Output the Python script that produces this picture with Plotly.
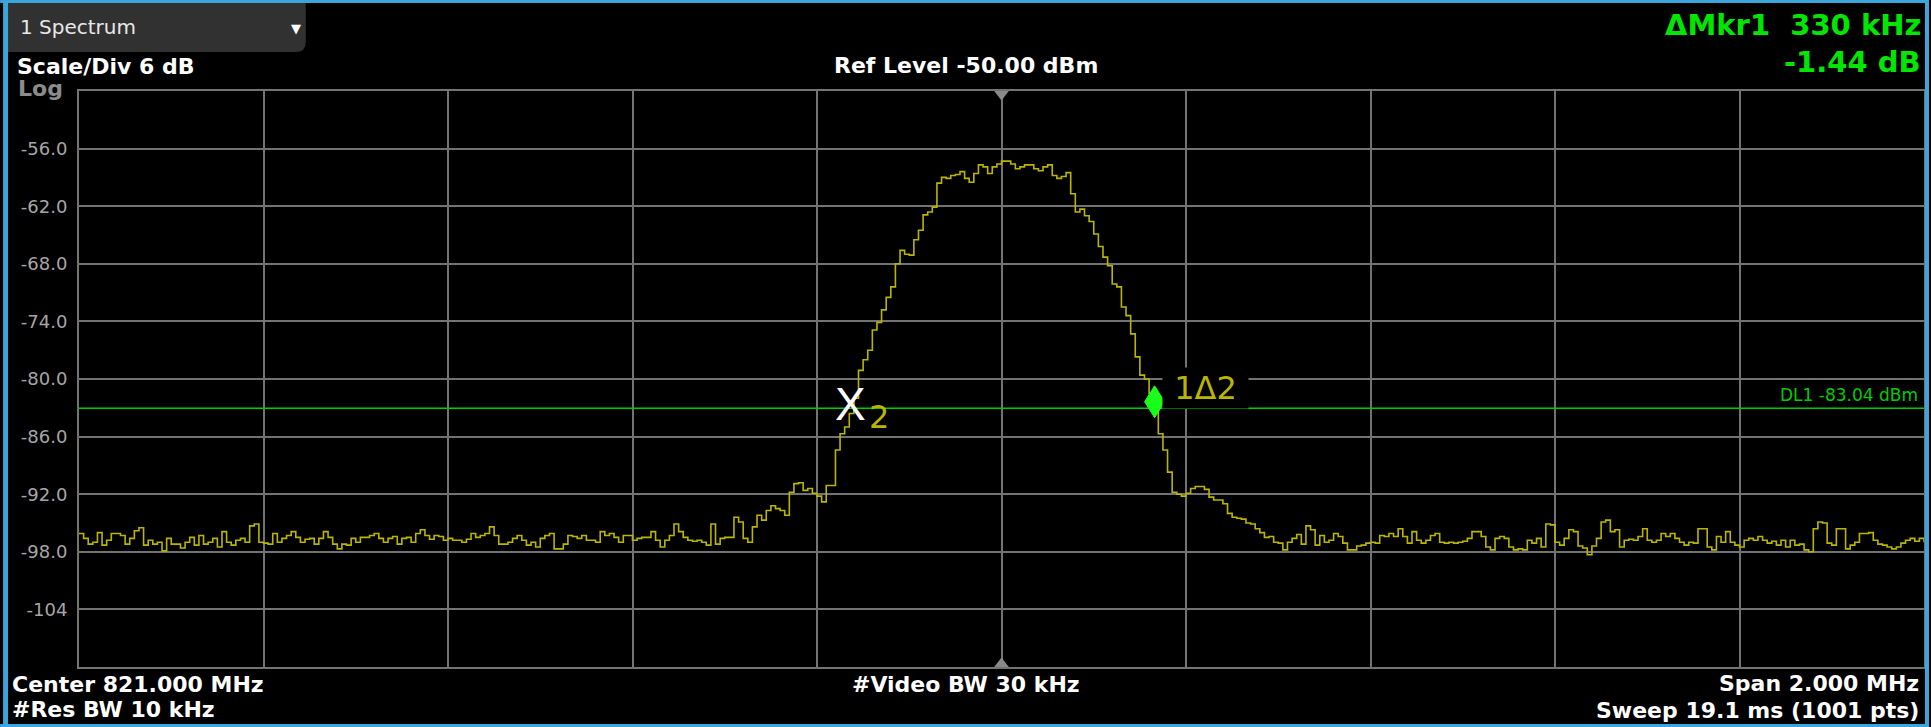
import numpy as np
import plotly.graph_objects as go

# ---- Instrument settings -------------------------------------------------
CENTER_MHZ = 821.0
SPAN_MHZ = 2.0
REF_LEVEL_DBM = -50.0
DB_PER_DIV = 6.0
N_DIV = 10
RES_BW_KHZ = 10
VIDEO_BW_KHZ = 30
SWEEP_MS = 19.1
SWEEP_POINTS = 1001

# ---- Trace 1 levels (dBm), one value every 5 kHz across the span ---------
trace_dbm = [
    -96.1, -96.6, -97.2, -97.0, -96.0, -97.3, -96.8, -96.1, -96.1, -96.3,
    -97.2, -96.6, -95.8, -95.5, -97.3, -96.8, -97.2, -97.0, -97.9, -96.6,
    -97.2, -97.2, -97.6, -97.0, -96.5, -97.3, -96.3, -97.2, -97.0, -96.6,
    -97.5, -95.9, -97.0, -97.3, -96.8, -96.6, -97.0, -95.3, -95.1, -97.0,
    -97.1, -97.2, -96.1, -97.0, -96.6, -96.3, -95.9, -96.5, -97.0, -96.7,
    -96.6, -97.2, -96.6, -95.9, -96.5, -97.2, -97.7, -97.2, -97.3, -96.6,
    -97.0, -96.5, -96.5, -96.3, -96.1, -96.6, -97.0, -96.6, -96.4, -97.2,
    -96.6, -96.5, -97.0, -96.1, -95.7, -96.3, -96.7, -96.3, -96.4, -96.8,
    -96.6, -96.8, -96.8, -97.0, -96.7, -96.1, -96.5, -96.3, -96.1, -95.4,
    -96.3, -97.2, -97.2, -97.0, -96.6, -96.3, -96.8, -97.3, -97.0, -97.5,
    -96.6, -96.3, -96.1, -97.7, -97.7, -97.2, -96.3, -96.4, -96.6, -96.3,
    -96.8, -96.8, -97.0, -95.9, -96.3, -96.1, -96.5, -97.0, -96.3, -96.3,
    -96.8, -96.6, -96.5, -96.5, -95.9, -96.8, -97.5, -96.8, -96.3, -95.1,
    -95.9, -96.5, -96.8, -96.9, -96.8, -97.0, -97.3, -95.1, -97.2, -96.6,
    -96.5, -96.5, -94.4, -94.9, -96.6, -97.0, -95.4, -94.2, -94.7, -93.7,
    -93.2, -93.5, -93.7, -94.2, -91.8, -90.9, -90.8, -91.6, -91.4, -91.9,
    -92.2, -92.8, -91.1, -91.1, -87.4, -85.7, -85.0, -83.6, -82.0, -79.1,
    -78.0, -77.0, -74.9, -74.1, -72.8, -71.5, -70.4, -68.0, -66.6, -67.0,
    -67.1, -65.5, -64.5, -62.9, -62.6, -62.1, -59.6, -59.0, -59.1, -58.8,
    -58.7, -58.4, -59.1, -59.5, -58.6, -57.7, -57.9, -58.6, -57.9, -57.6,
    -57.3, -57.3, -57.6, -58.1, -57.9, -57.7, -57.7, -58.1, -58.3, -57.9,
    -57.7, -58.8, -59.1, -58.9, -58.5, -60.7, -62.6, -62.3, -63.0, -63.6,
    -64.9, -66.2, -67.3, -68.2, -70.1, -70.4, -72.5, -73.4, -75.3, -77.7,
    -79.6, -80.0, -81.5, -82.6, -85.7, -87.4, -89.7, -91.8, -92.0, -92.2,
    -91.9, -91.4, -91.2, -91.2, -91.5, -92.3, -92.6, -92.6, -93.0, -94.0,
    -94.4, -94.5, -94.6, -95.0, -95.1, -95.6, -96.0, -96.5, -96.4, -97.0,
    -97.1, -97.8, -97.0, -96.6, -96.2, -97.2, -95.3, -95.7, -97.3, -96.3,
    -97.0, -96.8, -96.1, -96.4, -97.1, -97.8, -97.8, -97.4, -97.3, -97.1,
    -97.0, -97.1, -96.3, -96.4, -96.1, -96.4, -95.6, -96.4, -97.1, -95.9,
    -96.8, -97.1, -96.8, -96.3, -96.1, -97.0, -97.1, -97.0, -97.1, -97.0,
    -96.9, -96.6, -95.9, -95.9, -96.4, -97.5, -97.8, -96.6, -96.4, -96.6,
    -97.5, -97.8, -97.7, -97.8, -96.8, -97.1, -96.6, -97.5, -95.1, -95.2,
    -97.0, -97.3, -96.6, -95.7, -95.9, -97.4, -97.6, -98.3, -97.4, -96.6,
    -94.9, -94.7, -95.9, -95.7, -97.5, -96.8, -96.7, -96.8, -96.4, -95.6,
    -96.8, -97.0, -96.8, -96.1, -96.4, -96.1, -96.6, -97.0, -97.3, -97.0,
    -97.1, -95.6, -95.6, -97.5, -97.8, -96.4, -97.0, -95.9, -97.0, -97.3,
    -97.5, -96.8, -96.6, -96.8, -96.4, -96.8, -97.1, -96.9, -97.3, -96.8,
    -97.5, -96.8, -97.3, -97.2, -97.8, -98.0, -95.6, -94.9, -95.0, -97.1,
    -97.3, -95.6, -95.6, -97.7, -97.3, -97.0, -96.1, -96.1, -96.0, -96.8,
    -97.2, -97.3, -97.5, -97.7, -97.5, -97.1, -96.8, -96.6, -96.9, -96.6,
    -97.0,
]

# ---- Markers and display line --------------------------------------------
mkr2_freq_mhz = 820.836
mkr2_dbm = -82.6
delta_freq_khz = 330
delta_db = -1.44
mkr1_freq_mhz = mkr2_freq_mhz + delta_freq_khz / 1000.0
mkr1_dbm = mkr2_dbm + delta_db
dl1_dbm = -83.04

# ---- Graticule ------------------------------------------------------------
start_mhz = CENTER_MHZ - SPAN_MHZ / 2
stop_mhz = CENTER_MHZ + SPAN_MHZ / 2
bottom_dbm = REF_LEVEL_DBM - DB_PER_DIV * N_DIV
freq_mhz = np.linspace(start_mhz, stop_mhz, len(trace_dbm))
y_tick_vals = [-56, -62, -68, -74, -80, -86, -92, -98, -104]
y_tick_text = ["-56.0", "-62.0", "-68.0", "-74.0", "-80.0", "-86.0", "-92.0", "-98.0", "-104"]

# ---- Page geometry ----------------------------------------------------------
W, H = 1931, 727
ML, MR, MT, MB = 79, 5, 91, 60
PW, PH = W - ML - MR, H - MT - MB
PX_PER_DB = PH / (REF_LEVEL_DBM - bottom_dbm)
PX_PER_MHZ = PW / SPAN_MHZ


def fx(p):
    return (p - ML) / PW


def fy(p):
    return (H - MB - p) / PH


BG = "#000000"
GRID = "#737373"
TRACE = "#b9b500"
GREEN = "#00e600"
DL_GREEN = "#00cc00"
MKR_GREEN = "#19ff19"
FRAME_BLUE = "#39a6dc"
TAB = "#313131"
SANS = "DejaVu Sans"

fig = go.Figure()

fig.add_trace(go.Scatter(
    x=freq_mhz, y=trace_dbm, mode="lines",
    line=dict(color=TRACE, width=1.6, shape="hv"),
    hoverinfo="skip", showlegend=False,
))

# center-frequency indicators on the top and bottom graticule edges
fig.add_trace(go.Scatter(
    x=[CENTER_MHZ], y=[REF_LEVEL_DBM], mode="markers",
    marker=dict(symbol="triangle-down", size=19, color="#8a8a8a", line=dict(width=0)),
    hoverinfo="skip", showlegend=False, cliponaxis=True,
))
fig.add_trace(go.Scatter(
    x=[CENTER_MHZ], y=[bottom_dbm], mode="markers",
    marker=dict(symbol="triangle-up", size=19, color="#8a8a8a", line=dict(width=0)),
    hoverinfo="skip", showlegend=False, cliponaxis=True,
))

# delta marker 1: filled diamond whose lower tip sits on the marker point
half_w = 10 / PX_PER_MHZ     # 10 px half width
half_h = 16 / PX_PER_DB      # 16 px half height
fig.add_trace(go.Scatter(
    x=[mkr1_freq_mhz, mkr1_freq_mhz + half_w, mkr1_freq_mhz, mkr1_freq_mhz - half_w, mkr1_freq_mhz],
    y=[mkr1_dbm, mkr1_dbm + half_h, mkr1_dbm + 2 * half_h, mkr1_dbm + half_h, mkr1_dbm],
    mode="lines", fill="toself", fillcolor=MKR_GREEN,
    line=dict(color=MKR_GREEN, width=1),
    hoverinfo="skip", showlegend=False,
))

shapes = [
    # display line DL1
    dict(type="line", xref="x", yref="y", x0=start_mhz, x1=stop_mhz,
         y0=dl1_dbm, y1=dl1_dbm, line=dict(color=DL_GREEN, width=1.5), layer="between"),
]

# window tab "1 Spectrum" with rounded lower-right corner
tx0, ty0, tx1, ty1, rad = 7, 3, 306, 52, 10
tab_path = (
    f"M {fx(tx0)} {fy(ty0)} L {fx(tx1)} {fy(ty0)} L {fx(tx1)} {fy(ty1 - rad)} "
    f"Q {fx(tx1)} {fy(ty1)} {fx(tx1 - rad)} {fy(ty1)} L {fx(tx0)} {fy(ty1)} Z"
)
shapes.append(dict(type="path", xref="paper", yref="paper", path=tab_path,
                   fillcolor=TAB, line=dict(width=0), layer="above"))

# blue window frame
for (x0, y0, x1, y1) in [(0, 0, W, 3), (0, H - 3, W, H), (3, 0, 8, H), (W - 4, 0, W, H)]:
    shapes.append(dict(type="rect", xref="paper", yref="paper",
                       x0=fx(x0), x1=fx(x1), y0=fy(y1), y1=fy(y0),
                       fillcolor=FRAME_BLUE, line=dict(width=0), layer="above"))


def label(text, xp, yp, size, color, xanchor, weight="bold"):
    return dict(text=text, x=fx(xp), y=fy(yp), xref="paper", yref="paper",
                xanchor=xanchor, yanchor="middle", showarrow=False,
                font=dict(family=SANS, size=size, color=color, weight=weight))


nb = "\u00a0"
annotations = [
    label("1 Spectrum", 18, 27, 20, "#e8e8e8", "left", weight="normal"),
    label("\u25bc", 296, 28, 13, "#ffffff", "center", weight="normal"),
    label(f"Scale/Div {DB_PER_DIV:g} dB", 15, 66, 22, "#ffffff", "left"),
    label("Log", 16, 89, 22, "#8c8c8c", "left"),
    label(f"Ref Level {REF_LEVEL_DBM:.2f} dBm", 967, 65, 22, "#ffffff", "center"),
    label(f"\u0394Mkr1{nb * 2}{delta_freq_khz} kHz", 1925, 25, 29, GREEN, "right"),
    label(f"{delta_db:.2f} dB", 1925, 62, 29, GREEN, "right"),
    label(f"Center {CENTER_MHZ:.3f} MHz", 10, 684, 22, "#ffffff", "left"),
    label(f"#Res BW {RES_BW_KHZ} kHz", 10, 709, 22, "#ffffff", "left"),
    label(f"#Video BW {VIDEO_BW_KHZ} kHz", 967, 684, 22, "#ffffff", "center"),
    label(f"Span {SPAN_MHZ:.3f} MHz", 1923, 683, 22, "#ffffff", "right"),
    label(f"Sweep {SWEEP_MS} ms ({SWEEP_POINTS} pts)", 1923, 710, 22, "#ffffff", "right"),
    # display line readout
    dict(text=f"DL1 {dl1_dbm:.2f} dBm", x=fx(1922), xref="paper", y=dl1_dbm, yref="y",
         xanchor="right", yanchor="middle", yshift=13, showarrow=False,
         font=dict(family=SANS, size=17, color=DL_GREEN)),
    # reference marker 2
    dict(text="X", x=mkr2_freq_mhz, y=mkr2_dbm, xref="x", yref="y",
         xanchor="center", yanchor="middle", showarrow=False,
         font=dict(family="Liberation Sans Narrow, Liberation Sans", size=46, color="#ffffff")),
    dict(text="2", x=mkr2_freq_mhz, y=mkr2_dbm, xref="x", yref="y",
         xanchor="left", yanchor="middle", xshift=17, yshift=-13, showarrow=False,
         font=dict(family=SANS, size=32, color=TRACE)),
    # delta marker 1 label on a black panel
    dict(text=f"{nb}1\u03942{nb}", x=mkr1_freq_mhz, y=mkr1_dbm, xref="x", yref="y",
         xanchor="left", yanchor="middle", xshift=7, yshift=30, showarrow=False,
         bgcolor=BG, borderpad=1,
         font=dict(family=SANS, size=32, color=TRACE)),
]

fig.update_layout(
    width=W, height=H,
    margin=dict(l=ML, r=MR, t=MT, b=MB, pad=0),
    paper_bgcolor=BG, plot_bgcolor=BG,
    showlegend=False,
    shapes=shapes,
    annotations=annotations,
    xaxis=dict(
        range=[start_mhz, stop_mhz], tick0=start_mhz, dtick=SPAN_MHZ / N_DIV,
        showgrid=True, gridcolor=GRID, gridwidth=2, zeroline=False,
        showticklabels=False, ticks="",
        showline=True, mirror=True, linecolor=GRID, linewidth=2,
        fixedrange=True,
    ),
    yaxis=dict(
        range=[bottom_dbm, REF_LEVEL_DBM], tickmode="array",
        tickvals=y_tick_vals, ticktext=y_tick_text,
        showgrid=True, gridcolor=GRID, gridwidth=2, zeroline=False,
        ticks="", ticklabelstandoff=6,
        tickfont=dict(family=SANS, size=18, color="#a6a6a6"),
        showline=True, mirror=True, linecolor=GRID, linewidth=2,
        fixedrange=True,
    ),
)

fig.write_html("out.html")
